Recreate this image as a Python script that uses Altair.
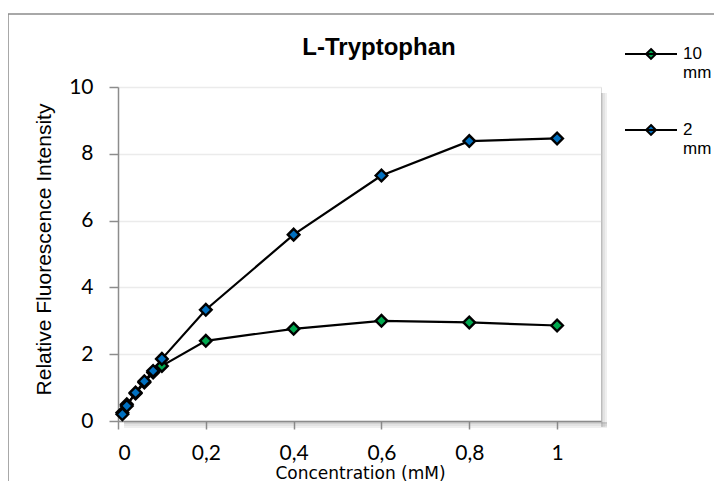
import altair as alt
import pandas as pd

# ---- data ----
concentration = [0.01, 0.02, 0.04, 0.06, 0.08, 0.1, 0.2, 0.4, 0.6, 0.8, 1.0]
series_names = ["10 mm", "2 mm"]
ten_mm = [0.25, 0.5, 0.82, 1.15, 1.45, 1.65, 2.4, 2.76, 3.0, 2.95, 2.86]
two_mm = [0.2, 0.45, 0.85, 1.19, 1.5, 1.86, 3.33, 5.58, 7.35, 8.38, 8.46]
series_colors = ["#00A94F", "#0070C0"]
x_ticks = [0, 0.2, 0.4, 0.6, 0.8, 1.0]
y_ticks = [0, 2, 4, 6, 8, 10]
chart_title = "L-Tryptophan"

rows = []
for name, vals in zip(series_names, [ten_mm, two_mm]):
    for c, v in zip(concentration, vals):
        rows.append({"conc": c, "value": v, "series": name})
df = pd.DataFrame(rows)

W, H = 483, 334
dummy = pd.DataFrame({"k": [0]})

x_enc = alt.X(
    "conc:Q",
    scale=alt.Scale(domain=[0, 1.1], nice=False, zero=True),
    axis=alt.Axis(
        values=x_ticks, grid=False,
        labelExpr="replace(format(datum.value, '~g'), '.', ',')",
        domainColor="#8c8c8c", domainWidth=1.5,
        tickColor="#8c8c8c", tickWidth=1.5, tickSize=8,
        labelFont="Lato", labelFontSize=21, labelColor="black", labelPadding=13,
        title="Concentration  (mM)", titleFont="DejaVu Sans", titleFontSize=17,
        titleFontWeight="normal", titleColor="black",
        titleX=242, titleY=57, titleBaseline="alphabetic",
    ),
)
y_enc = alt.Y(
    "value:Q",
    scale=alt.Scale(domain=[0, 10], nice=False),
    axis=alt.Axis(
        values=y_ticks, grid=True, gridColor="#ebebeb", gridWidth=1.5,
        domainColor="#8c8c8c", domainWidth=1.5,
        tickColor="#8c8c8c", tickWidth=1.5, tickSize=9,
        labelFont="Lato", labelFontSize=21, labelColor="black", labelPadding=16,
        title="Relative Fluorescence  Intensity", titleFont="Liberation Sans",
        titleFontSize=21, titleFontWeight="normal", titleColor="black",
        titleX=-68, titleY=162, titleBaseline="alphabetic", titleAngle=-90,
        titleAlign="center",
    ),
)

# shadow of the plot area
shadow_layers = []
for off, op in [(0, 0.35), (2, 0.22), (4, 0.12)]:
    shadow_layers.append(
        alt.Chart(dummy).mark_rect(color="#7f7f7f", opacity=op).encode(
            x=alt.value(W + off), x2=alt.value(W + off + 2),
            y=alt.value(6), y2=alt.value(H + 6),
        )
    )
    shadow_layers.append(
        alt.Chart(dummy).mark_rect(color="#7f7f7f", opacity=op).encode(
            x=alt.value(6), x2=alt.value(W + 6),
            y=alt.value(H + off + 1), y2=alt.value(H + off + 3),
        )
    )

border = alt.Chart(dummy).mark_rect(
    fillOpacity=0, stroke="#8c8c8c", strokeWidth=1.5
).encode(x=alt.value(-110), x2=alt.value(900), y=alt.value(-73), y2=alt.value(700))

title = alt.Chart(pd.DataFrame({"t": [chart_title]})).mark_text(
    font="Liberation Sans", fontSize=24, fontWeight="bold", color="black",
    align="center", baseline="alphabetic",
).encode(text="t:N", x=alt.value(261), y=alt.value(-32))

lines = alt.Chart(df).mark_line(color="black", strokeWidth=2.2).encode(
    x=x_enc, y=y_enc, detail="series:N"
)

points = alt.Chart(df).mark_point(
    shape="diamond", filled=True, size=135, stroke="black", strokeWidth=2.4, opacity=1
).encode(
    x=x_enc, y=y_enc,
    fill=alt.Fill(
        "series:N",
        scale=alt.Scale(domain=series_names, range=series_colors),
        legend=alt.Legend(
            title=None, orient="none", legendX=506, legendY=-60, padding=0,
            symbolType="M-1,0L1,0M0,-0.19L0.19,0L0,0.19L-0.19,0Z",
            symbolSize=2704, symbolStrokeColor="black", symbolStrokeWidth=2,
            labelFont="Liberation Sans", labelFontSize=17, labelColor="black",
            labelExpr="split(datum.label, ' ')", labelOffset=5, labelLimit=200,
            rowPadding=22,
        ),
    ),
)

chart = alt.layer(border, *shadow_layers, title, lines, points).properties(
    width=W, height=H,
    padding={"left": 110, "top": 79, "right": 113, "bottom": 60},
    autosize=alt.AutoSizeParams(type="none"),
).configure_view(stroke=None).configure(background="white")

chart.save("out.html", embed_options={"renderer": "svg", "actions": False})
